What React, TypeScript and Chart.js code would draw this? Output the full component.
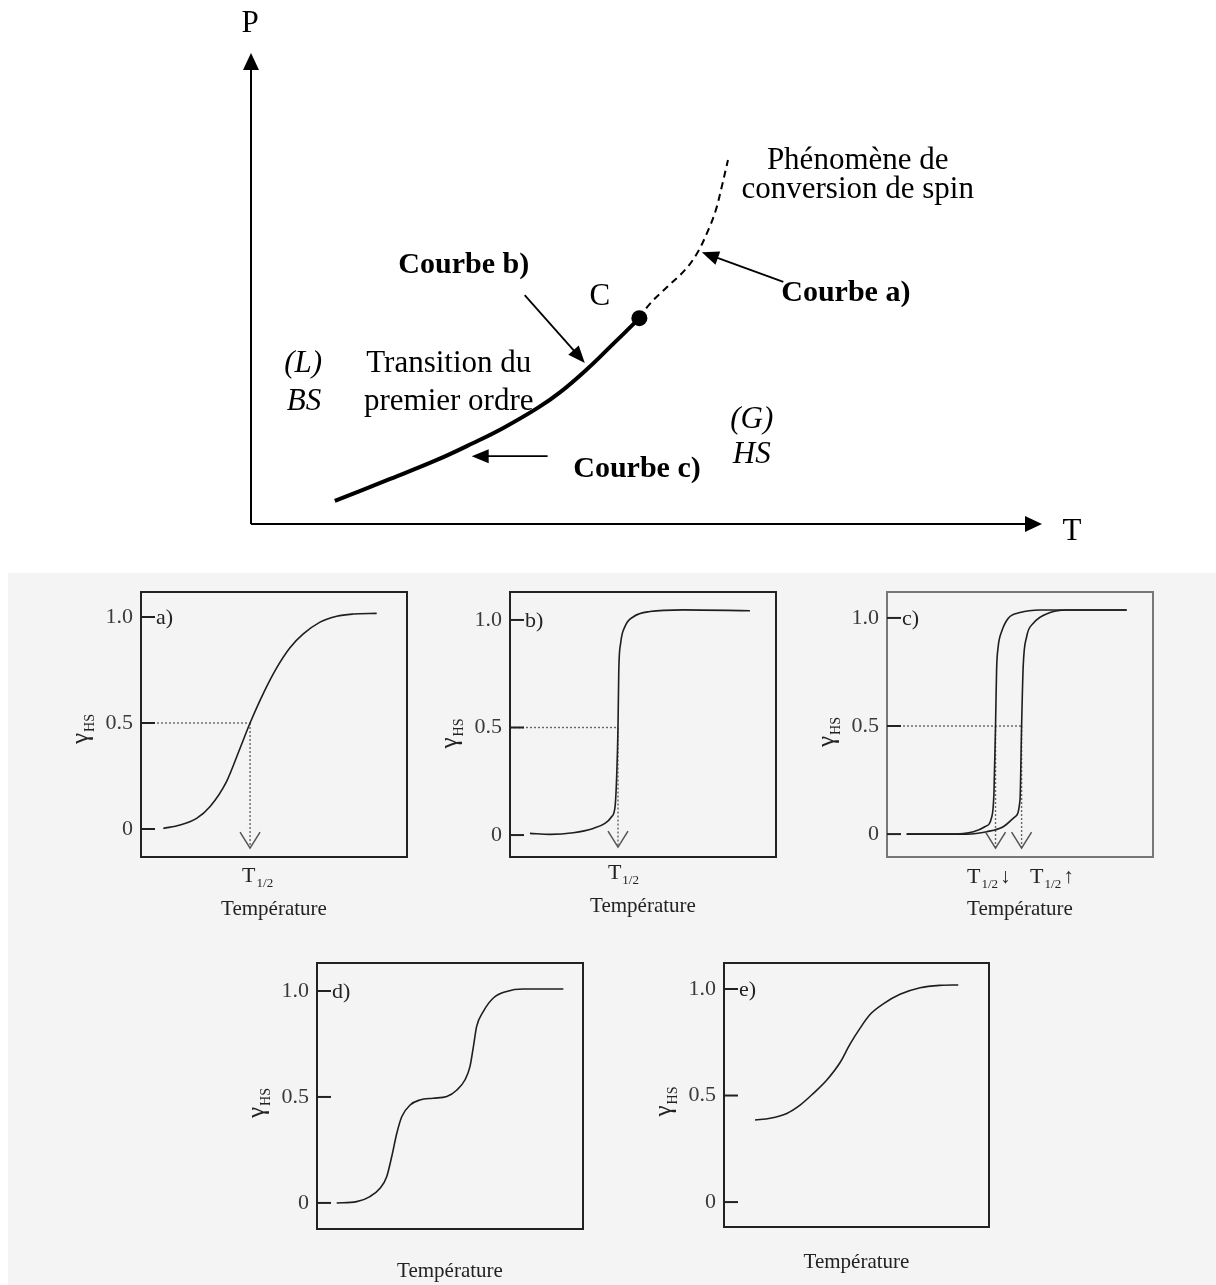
import React, { useEffect, useRef } from 'react';
import { Chart, registerables } from 'chart.js';

Chart.register(...registerables);

const SERIF = '"Liberation Serif", "Times New Roman", Times, serif';

// ---------- Phase diagram P(T), arbitrary units (0–100 on both axes) ----------
const firstOrderT = [10.6, 17.2, 23.5, 28.1, 31.9, 36.2, 39.1, 42.5, 45.4, 49.1];
const firstOrderP = [4.9, 9.3, 13.6, 17.2, 20.4, 24.6, 28.0, 32.9, 37.6, 43.7];
const conversionT = [49.1, 50.4, 52.6, 54.9, 56.4, 57.6, 58.7, 59.5, 60.3];
const conversionP = [43.7, 46.7, 50.3, 54.0, 57.5, 61.6, 66.3, 71.5, 77.3];
const criticalT = 49.1;
const criticalP = 43.7;

// pointer arrows: [fromT, fromP, toT, toP]
const pointerArrows = [
  [67.3, 51.4, 57.0, 57.7], // Courbe a)
  [34.6, 48.6, 42.2, 34.2], // Courbe b)
  [37.5, 14.4, 27.9, 14.4], // Courbe c)
];

type Label = { text: string; T: number; P: number; style: 'r' | 'b' | 'i' };
const phaseLabels: Label[] = [
  { text: 'P', T: -0.1, P: 104.5, style: 'r' },
  { text: 'T', T: 103.8, P: -3.4, style: 'r' },
  { text: 'Phénomène de', T: 76.7, P: 75.4, style: 'r' },
  { text: 'conversion de spin', T: 76.7, P: 69.2, style: 'r' },
  { text: 'Courbe a)', T: 75.2, P: 47.3, style: 'b' },
  { text: 'Courbe b)', T: 26.9, P: 53.3, style: 'b' },
  { text: 'C', T: 44.1, P: 46.5, style: 'r' },
  { text: '(L)', T: 6.6, P: 32.3, style: 'i' },
  { text: 'BS', T: 6.7, P: 24.2, style: 'i' },
  { text: 'Transition du', T: 25.0, P: 32.3, style: 'r' },
  { text: 'premier ordre', T: 25.0, P: 24.2, style: 'r' },
  { text: '(G)', T: 63.3, P: 20.4, style: 'i' },
  { text: 'HS', T: 63.3, P: 13.0, style: 'i' },
  { text: 'Courbe c)', T: 48.8, P: 10.0, style: 'b' },
];

// ---------- γHS(T) curves, temperature in arbitrary units (0–100) ----------
const curveA_T = [8.4, 14.7, 20.9, 25.9, 32.2, 37.2, 41.0, 46.0, 51.0, 56.0, 61.0, 67.3, 73.6, 79.8, 88.6];
const curveA_Y = [0.003, 0.019, 0.05, 0.105, 0.225, 0.38, 0.5, 0.64, 0.76, 0.855, 0.92, 0.976, 1.004, 1.014, 1.017];

const curveB_T = [7.5, 15.0, 23.8, 31.3, 35.7, 38.2, 39.5, 40.1, 40.6, 40.9, 41.6, 43.2, 46.4, 52.6, 65.2, 90.2];
const curveB_Y = [0.008, 0.003, 0.011, 0.031, 0.054, 0.085, 0.132, 0.271, 0.5, 0.767, 0.892, 0.969, 1.015, 1.039, 1.047, 1.043];

const curveCdown_T = [7.4, 23.7, 32.5, 36.8, 39.4, 40.2, 40.8, 41.2, 41.8, 43.1, 45.6, 50.0, 57.5, 90.1];
const curveCdown_Y = [0, 0, 0.011, 0.034, 0.08, 0.188, 0.5, 0.759, 0.867, 0.937, 0.999, 1.025, 1.037, 1.037];
const curveCup_T = [7.4, 30.0, 37.5, 43.7, 48.1, 50.0, 50.6, 51.2, 52.5, 55.0, 61.3, 67.6, 90.1];
const curveCup_Y = [0, 0, 0.011, 0.034, 0.08, 0.157, 0.5, 0.775, 0.913, 0.975, 1.025, 1.037, 1.037];

const curveD_T = [7.4, 14.9, 19.9, 23.7, 26.2, 28.1, 30.0, 31.9, 35.0, 38.7, 43.7, 48.8, 52.6, 55.6, 57.5, 58.8, 60.0, 62.5, 66.3, 71.3, 77.5, 92.6];
const curveD_Y = [0, 0.006, 0.03, 0.069, 0.124, 0.219, 0.329, 0.408, 0.462, 0.486, 0.494, 0.502, 0.533, 0.58, 0.643, 0.738, 0.832, 0.903, 0.967, 0.998, 1.009, 1.009];

const curveE_T = [11.7, 17.4, 23.7, 28.7, 33.7, 38.8, 43.8, 47.5, 51.3, 55.1, 60.1, 66.4, 74.0, 81.5, 88.4];
const curveE_Y = [0.385, 0.393, 0.416, 0.455, 0.51, 0.573, 0.655, 0.74, 0.815, 0.88, 0.93, 0.975, 1.006, 1.017, 1.019];

const yTickValues = [0, 0.5, 1.0];

type Pt = { x: number; y: number };
const zip = (xs: number[], ys: number[]): Pt[] => xs.map((x, i) => ({ x, y: ys[i] }));

function arrowHead(ctx: CanvasRenderingContext2D, x0: number, y0: number, x1: number, y1: number, len: number, half: number) {
  const a = Math.atan2(y1 - y0, x1 - x0);
  const bx = x1 - len * Math.cos(a);
  const by = y1 - len * Math.sin(a);
  ctx.beginPath();
  ctx.moveTo(x1, y1);
  ctx.lineTo(bx + half * Math.sin(a), by - half * Math.cos(a));
  ctx.lineTo(bx - half * Math.sin(a), by + half * Math.cos(a));
  ctx.closePath();
  ctx.fill();
}

const phasePlugin = {
  id: 'phaseDecor',
  afterDraw(chart: any) {
    const { ctx, chartArea: a, scales } = chart;
    const x = scales.x;
    const y = scales.y;
    ctx.save();
    ctx.strokeStyle = '#000';
    ctx.fillStyle = '#000';
    // axes with arrow tips
    ctx.lineWidth = 2;
    ctx.beginPath();
    ctx.moveTo(a.left, a.bottom);
    ctx.lineTo(a.left, a.top + 10);
    ctx.moveTo(a.left, a.bottom);
    ctx.lineTo(a.right - 10, a.bottom);
    ctx.stroke();
    arrowHead(ctx, a.left, a.bottom, a.left, a.top, 17, 8);
    arrowHead(ctx, a.left, a.bottom, a.right, a.bottom, 17, 8);
    // pointer arrows towards the curves
    ctx.lineWidth = 1.8;
    for (const [t0, p0, t1, p1] of pointerArrows) {
      const X0 = x.getPixelForValue(t0), Y0 = y.getPixelForValue(p0);
      const X1 = x.getPixelForValue(t1), Y1 = y.getPixelForValue(p1);
      const ang = Math.atan2(Y1 - Y0, X1 - X0);
      ctx.beginPath();
      ctx.moveTo(X0, Y0);
      ctx.lineTo(X1 - 10 * Math.cos(ang), Y1 - 10 * Math.sin(ang));
      ctx.stroke();
      arrowHead(ctx, X0, Y0, X1, Y1, 17, 7);
    }
    // labels
    ctx.textAlign = 'center';
    ctx.textBaseline = 'alphabetic';
    for (const l of phaseLabels) {
      ctx.font = l.style === 'b' ? `bold 30px ${SERIF}` : l.style === 'i' ? `italic 31px ${SERIF}` : `31px ${SERIF}`;
      ctx.fillText(l.text, x.getPixelForValue(l.T), y.getPixelForValue(l.P));
    }
    ctx.restore();
  },
};

function PhaseDiagram() {
  const ref = useRef<HTMLCanvasElement>(null);
  useEffect(() => {
    const chart = new Chart(ref.current as HTMLCanvasElement, {
      type: 'line',
      data: {
        datasets: [
          {
            data: zip(firstOrderT, firstOrderP),
            borderColor: '#000',
            borderWidth: 4,
            pointRadius: 0,
            tension: 0.4,
            fill: false,
          },
          {
            data: zip(conversionT, conversionP),
            borderColor: '#000',
            borderWidth: 2,
            borderDash: [7, 5],
            pointRadius: 0,
            tension: 0.4,
            fill: false,
          },
          {
            data: [{ x: criticalT, y: criticalP }],
            showLine: false,
            pointRadius: 8,
            pointBackgroundColor: '#000',
            pointBorderWidth: 0,
          },
        ],
      } as any,
      options: {
        responsive: false,
        animation: false,
        events: [],
        layout: { padding: { left: 251, top: 53, right: 174, bottom: 46 } },
        scales: {
          x: { type: 'linear', min: 0, max: 100, display: false },
          y: { type: 'linear', min: 0, max: 100, display: false },
        },
        plugins: { legend: { display: false }, tooltip: { enabled: false } },
      },
      plugins: [phasePlugin],
    });
    return () => chart.destroy();
  }, []);
  return <canvas ref={ref} width={1216} height={570} style={{ position: 'absolute', left: 0, top: 0 }} />;
}

type HalfLabel = { x: number; suffix: string };
type PanelSpec = {
  label: string;
  box: { l: number; t: number; r: number; b: number };
  yMin: number;
  yMax: number;
  frame: string;
  series: [number[], number[]][];
  halfT: number[];
  tipY: number;
  halfLabels: HalfLabel[];
  labelDy: number;
  titleDy: number;
  bottomRoom: number;
};

const panels: PanelSpec[] = [
  {
    label: 'a)', box: { l: 141, t: 592, r: 407, b: 857 }, yMin: -0.132, yMax: 1.118, frame: '#222',
    series: [[curveA_T, curveA_Y]], halfT: [41.0], tipY: -0.09,
    halfLabels: [{ x: 38.0, suffix: '' }], labelDy: 25, titleDy: 58, bottomRoom: 70,
  },
  {
    label: 'b)', box: { l: 510, t: 592, r: 776, b: 857 }, yMin: -0.102, yMax: 1.13, frame: '#222',
    series: [[curveB_T, curveB_Y]], halfT: [40.6], tipY: -0.056,
    halfLabels: [{ x: 36.8, suffix: '' }], labelDy: 22, titleDy: 55, bottomRoom: 70,
  },
  {
    label: 'c)', box: { l: 887, t: 592, r: 1153, b: 857 }, yMin: -0.106, yMax: 1.12, frame: '#777',
    series: [[curveCdown_T, curveCdown_Y], [curveCup_T, curveCup_Y]], halfT: [40.8, 50.6], tipY: -0.065,
    halfLabels: [{ x: 30.1, suffix: '↓' }, { x: 53.8, suffix: '↑' }], labelDy: 26, titleDy: 58, bottomRoom: 70,
  },
  {
    label: 'd)', box: { l: 317, t: 963, r: 583, b: 1229 }, yMin: -0.123, yMax: 1.132, frame: '#222',
    series: [[curveD_T, curveD_Y]], halfT: [], tipY: 0,
    halfLabels: [], labelDy: 0, titleDy: 48, bottomRoom: 55,
  },
  {
    label: 'e)', box: { l: 724, t: 963, r: 989, b: 1227 }, yMin: -0.117, yMax: 1.122, frame: '#222',
    series: [[curveE_T, curveE_Y]], halfT: [], tipY: 0,
    halfLabels: [], labelDy: 0, titleDy: 41, bottomRoom: 55,
  },
];

const LEFT_ROOM = 130;
const TOP_ROOM = 30;
const RIGHT_ROOM = 20;

function makePanelDecor(p: PanelSpec) {
  return {
    id: 'panelDecor',
    afterDraw(chart: any) {
      const { ctx, chartArea: a, scales } = chart;
      const x = scales.x;
      const y = scales.y;
      ctx.save();
      // frame
      ctx.strokeStyle = p.frame;
      ctx.lineWidth = 2;
      ctx.strokeRect(a.left, a.top, a.right - a.left, a.bottom - a.top);
      // inward tick marks
      ctx.strokeStyle = '#222';
      ctx.lineWidth = 2;
      for (const v of yTickValues) {
        const py = y.getPixelForValue(v);
        ctx.beginPath();
        ctx.moveTo(a.left, py);
        ctx.lineTo(a.left + 14, py);
        ctx.stroke();
      }
      ctx.fillStyle = '#222';
      // panel letter
      ctx.font = `22px ${SERIF}`;
      ctx.textAlign = 'left';
      ctx.textBaseline = 'middle';
      ctx.fillText(p.label, a.left + 15, y.getPixelForValue(1) + 1);
      // y title γHS, rotated
      ctx.save();
      ctx.translate(a.left - 56, y.getPixelForValue(0.5) + 6);
      ctx.rotate(-Math.PI / 2);
      ctx.font = `25px ${SERIF}`;
      const wg = ctx.measureText('γ').width;
      ctx.font = `14px ${SERIF}`;
      const ws = ctx.measureText('HS').width;
      const x0 = -(wg + ws + 1) / 2;
      ctx.textAlign = 'left';
      ctx.textBaseline = 'alphabetic';
      ctx.font = `25px ${SERIF}`;
      ctx.fillText('γ', x0, 3);
      ctx.font = `14px ${SERIF}`;
      ctx.fillText('HS', x0 + wg + 1, 9);
      ctx.restore();
      // open arrow heads at T1/2
      ctx.strokeStyle = '#555';
      ctx.lineWidth = 1.5;
      for (const t of p.halfT) {
        const px = x.getPixelForValue(t);
        const py = y.getPixelForValue(p.tipY);
        ctx.beginPath();
        ctx.moveTo(px - 10, py - 16);
        ctx.lineTo(px, py);
        ctx.lineTo(px + 10, py - 16);
        ctx.stroke();
      }
      // T1/2 labels
      ctx.textAlign = 'left';
      ctx.textBaseline = 'alphabetic';
      for (const h of p.halfLabels) {
        const lx = x.getPixelForValue(h.x);
        const base = a.bottom + p.labelDy;
        ctx.font = `22px ${SERIF}`;
        ctx.fillText('T', lx, base);
        let w = ctx.measureText('T').width + 1;
        ctx.font = `13px ${SERIF}`;
        ctx.fillText('1/2', lx + w, base + 5);
        w += ctx.measureText('1/2').width + 2;
        if (h.suffix) {
          ctx.font = `21px ${SERIF}`;
          ctx.fillText(h.suffix, lx + w, base);
        }
      }
      // axis title
      ctx.textAlign = 'center';
      ctx.font = `21px ${SERIF}`;
      ctx.fillText('Température', (a.left + a.right) / 2, a.bottom + p.titleDy);
      ctx.restore();
    },
  };
}

function SpinPanel({ p }: { p: PanelSpec }) {
  const ref = useRef<HTMLCanvasElement>(null);
  const left = p.box.l - LEFT_ROOM;
  const top = p.box.t - TOP_ROOM;
  const width = LEFT_ROOM + (p.box.r - p.box.l) + RIGHT_ROOM;
  const height = TOP_ROOM + (p.box.b - p.box.t) + p.bottomRoom;
  useEffect(() => {
    const datasets: any[] = [];
    for (const [xs, ys] of p.series) {
      datasets.push({
        data: zip(xs, ys),
        borderColor: '#1e1e1e',
        borderWidth: 1.6,
        pointRadius: 0,
        cubicInterpolationMode: 'monotone',
        fill: false,
      });
    }
    if (p.halfT.length) {
      datasets.push({
        data: [{ x: 0, y: 0.5 }, { x: Math.max(...p.halfT), y: 0.5 }],
        borderColor: '#666',
        borderWidth: 1.4,
        borderDash: [2, 2],
        pointRadius: 0,
      });
      for (const t of p.halfT) {
        datasets.push({
          data: [{ x: t, y: 0.5 }, { x: t, y: p.tipY }],
          borderColor: '#666',
          borderWidth: 1.4,
          borderDash: [2, 2],
          pointRadius: 0,
        });
      }
    }
    const chart = new Chart(ref.current as HTMLCanvasElement, {
      type: 'line',
      data: { datasets },
      options: {
        responsive: false,
        animation: false,
        events: [],
        layout: { padding: { left: 0, top: TOP_ROOM, right: RIGHT_ROOM, bottom: p.bottomRoom } },
        scales: {
          x: { type: 'linear', min: 0, max: 100, display: false },
          y: {
            type: 'linear',
            min: p.yMin,
            max: p.yMax,
            afterFit: (s: any) => {
              s.width = LEFT_ROOM;
            },
            afterBuildTicks: (s: any) => {
              s.ticks = yTickValues.map((v) => ({ value: v }));
            },
            grid: { display: false, drawTicks: false },
            border: { display: false },
            ticks: {
              padding: 8,
              color: '#3a3a3a',
              font: { family: SERIF, size: 22 },
              callback: (v: any) => (Number(v) === 0 ? '0' : Number(v).toFixed(1)),
            },
          },
        },
        plugins: { legend: { display: false }, tooltip: { enabled: false } },
      } as any,
      plugins: [makePanelDecor(p)],
    });
    return () => chart.destroy();
  }, []);
  return <canvas ref={ref} width={width} height={height} style={{ position: 'absolute', left, top }} />;
}

export default function App() {
  return (
    <div
      style={{
        position: 'absolute',
        left: 0,
        top: 0,
        width: 1216,
        height: 1285,
        background: '#ffffff',
        overflow: 'hidden',
      }}
    >
      <div
        style={{
          position: 'absolute',
          left: 8,
          top: 573,
          width: 1208,
          height: 712,
          background: '#f4f4f4',
        }}
      />
      <PhaseDiagram />
      {panels.map((p) => (
        <SpinPanel key={p.label} p={p} />
      ))}
    </div>
  );
}
